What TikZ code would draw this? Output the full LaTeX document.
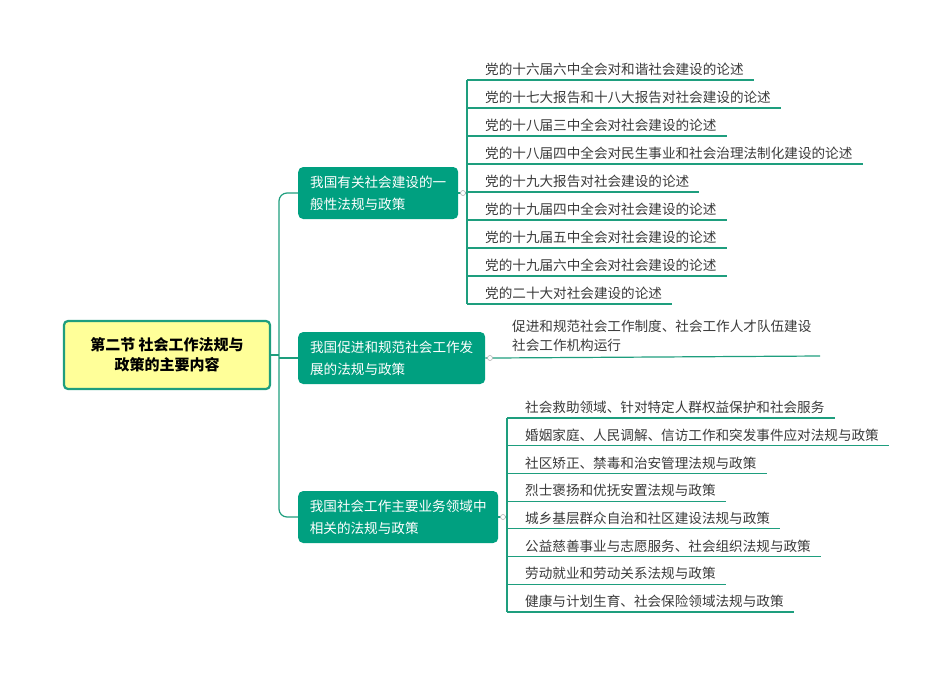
\documentclass[tikz,border=0pt]{standalone}
\usepackage{fontspec}
\setmainfont{Noto Sans CJK SC}
\begin{document}
\begin{tikzpicture}[x=1pt,y=-1pt,
  line/.style={draw=lc,line width=1.2pt},
  rootbox/.style={draw=lc,line width=2.2pt,fill=rootfill,rounded corners=4pt,minimum width=206pt,minimum height=68pt,align=center,font=\fontsize{15}{20}\selectfont\bfseries,text=black},
  branchbox/.style={fill=bfill,rounded corners=5pt,anchor=west,align=left,text=white,font=\fontsize{13.6}{22}\selectfont,inner xsep=10pt,minimum height=52pt},
  leaf/.style={anchor=south west,inner xsep=10pt,inner ysep=4pt,text=tc,font=\fontsize{13.6}{19}\selectfont,align=left},
  dot/.style={circle,draw=gray!60,fill=white,inner sep=0pt,minimum size=5pt,line width=0.6pt}]
\definecolor{lc}{HTML}{1E9E7E}
\definecolor{bfill}{HTML}{00A080}
\definecolor{rootfill}{HTML}{FFFF99}
\definecolor{tc}{HTML}{3A3A3A}
\useasboundingbox (0,0) rectangle (950,672);
\node[rootbox] (root) at (167,355) {第二节 社会工作法规与\\政策的主要内容};
\node[branchbox,minimum width=160pt] (b1) at (298,193) {我国有关社会建设的一\\般性法规与政策};
\node[branchbox,minimum width=187pt] (b2) at (298,358) {我国促进和规范社会工作发\\展的法规与政策};
\node[branchbox,minimum width=200pt] (b3) at (298,517) {我国社会工作主要业务领域中\\相关的法规与政策};
\coordinate (t1) at (279,193);
\coordinate (t3) at (279,517);
\draw[line] (root.east) -- (t1 |- root.east);
\draw[line,rounded corners=8pt] (b1.west) -- (t1) -- (t3) -- (b3.west);
\draw[line] (279,358) -- (b2.west);
% branch 1 leaves
\coordinate (v1a) at (467,80);
\coordinate (v1b) at (467,304);
\draw[line] (b1.east) -- (467,193);
\draw[line] (v1a) -- (v1b);
\foreach \t [count=\i] in {党的十六届六中全会对和谐社会建设的论述,党的十七大报告和十八大报告对社会建设的论述,党的十八届三中全会对社会建设的论述,党的十八届四中全会对民生事业和社会治理法制化建设的论述,党的十九大报告对社会建设的论述,党的十九届四中全会对社会建设的论述,党的十九届五中全会对社会建设的论述,党的十九届六中全会对社会建设的论述,党的二十大对社会建设的论述}{
  \node[leaf] (l1\i) at (475,{80+28*(\i-1)}) {\t};
  \draw[line] (467,{80+28*(\i-1)}) -- (l1\i.south east);
}
\node[dot] (d1) at (463,193) {};
% branch 2 leaf
\node[leaf,anchor=south west] (l21) at (502,356) {促进和规范社会工作制度、社会工作人才队伍建设\\社会工作机构运行};
\draw[line] (b2.east) -- (494,358) -- (820,356);
\node[dot] (d2) at (490,358) {};
% branch 3 leaves
\draw[line] (b3.east) -- (507,517);
\draw[line] (507,418) -- (507,612);
\foreach \t [count=\i] in {社会救助领域、针对特定人群权益保护和社会服务,婚姻家庭、人民调解、信访工作和突发事件应对法规与政策,社区矫正、禁毒和治安管理法规与政策,烈士褒扬和优抚安置法规与政策,城乡基层群众自治和社区建设法规与政策,公益慈善事业与志愿服务、社会组织法规与政策,劳动就业和劳动关系法规与政策,健康与计划生育、社会保险领域法规与政策}{
  \node[leaf] (l3\i) at (515,{418+27.7*(\i-1)}) {\t};
  \draw[line] (507,{418+27.7*(\i-1)}) -- (l3\i.south east);
}
\node[dot] (d3) at (503,517) {};
\end{tikzpicture}
\end{document}
